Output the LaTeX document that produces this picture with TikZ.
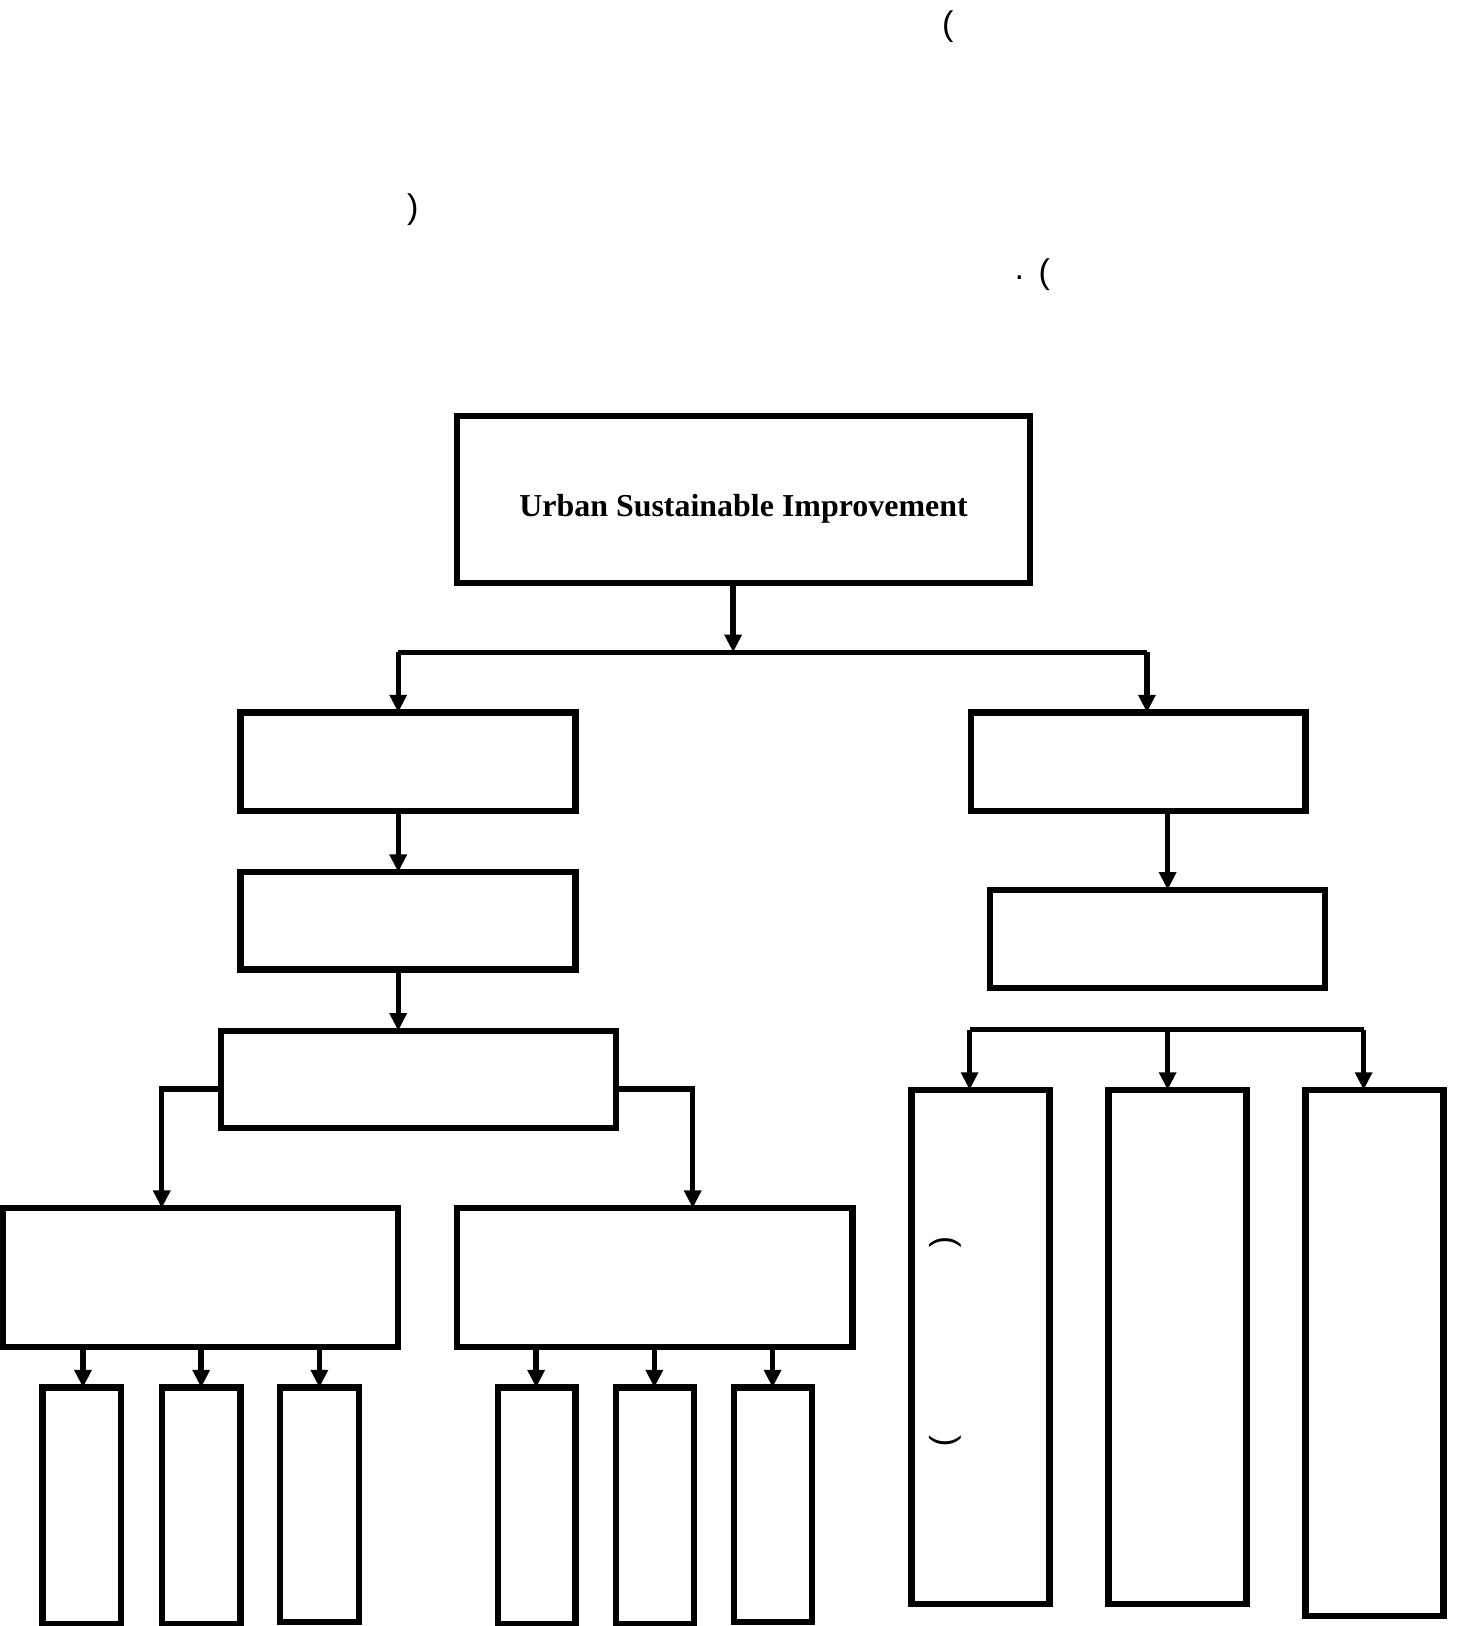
\documentclass[tikz,border=0pt]{standalone}
\usepackage{fontspec}
\setmainfont{Liberation Serif}
\newfontfamily\parfont{Liberation Sans}
\usetikzlibrary{arrows.meta}
\tikzset{
  box/.style={draw, line width=6pt, inner sep=0pt, outer sep=0pt, rectangle},
  conn/.style={line width=5.2pt},
  arr/.style={line width=5.2pt, -{Triangle[length=17pt,width=16pt]}},
  par/.style={inner sep=0pt, font=\parfont\fontsize{33}{36}\selectfont},
}
\newcommand\mybox[5]{\node[box, minimum width={(#4)-(#2)}, minimum height={(#5)-(#3)}] (#1) at ({((#2)+(#4))/2},{((#3)+(#5))/2}) {};}
\begin{document}
\begin{tikzpicture}[x=1pt,y=-1pt]
\useasboundingbox (0,0) rectangle (1410,1568);
% stray text marks
\node[par] (p1) at (914,26) {(};
\node[par] (p2) at (398,202) {)};
\node[par] (p3a) at (983,268) {.};
\node[par] (p3) at (1007,265) {(};
\node[par, rotate=-90] (p4) at (912,1198) {(};
\node[par, rotate=-90] (p5) at (912,1390) {)};
% boxes
\mybox{top}{441}{401}{993}{562}
\node[font=\bfseries\fontsize{30.8}{36}\selectfont] (tt) at (717,491) {Urban Sustainable Improvement};
\mybox{A1}{232}{687}{555}{782}
\mybox{A2}{232}{841}{555}{935}
\mybox{A3}{213}{994}{594}{1088}
\mybox{B1}{3}{1165}{384}{1299}
\mybox{B2}{441}{1165}{822}{1299}
\mybox{S1}{41}{1338}{117}{1566}
\mybox{S2}{156}{1338}{232}{1566}
\mybox{S3}{270}{1338}{346}{1564}
\mybox{S4}{480}{1338}{555}{1566}
\mybox{S5}{594}{1338}{669}{1566}
\mybox{S6}{708}{1338}{783}{1564}
\mybox{R1}{936}{687}{1259}{782}
\mybox{R2}{955}{858}{1278}{953}
\mybox{C1}{879}{1051}{1012}{1547}
\mybox{C2}{1069}{1051}{1202}{1547}
\mybox{C3}{1259}{1051}{1392}{1558}
% connectors
\coordinate (j0) at (707,629);
\coordinate (bl) at (384,629);
\coordinate (br) at (1106,629);
\draw[arr] (top.south -| j0) -- (j0);
\draw[conn] (bl) -- (br);
\draw[arr] (bl) -- (bl |- A1.north);
\draw[arr] (br) -- (br |- R1.north);
\draw[arr] (A1.south -| bl) -- (A2.north -| bl);
\draw[arr] (A2.south -| bl) -- (A3.north -| bl);
\coordinate (a3l) at (156,1050);
\coordinate (a3r) at (668,1050);
\draw[arr] (A3.west |- a3l) -- (a3l) -- (a3l |- B1.north);
\draw[arr] (A3.east |- a3r) -- (a3r) -- (a3r |- B2.north);
\foreach \s/\x in {S1/80,S2/194,S3/308}
  \draw[arr] (B1.south -| \x,0) -- (\s.north -| \x,0);
\foreach \s/\x in {S4/517,S5/631,S6/745}
  \draw[arr] (B2.south -| \x,0) -- (\s.north -| \x,0);
\draw[arr] (R1.south -| 1126,0) -- (R2.north -| 1126,0);
\coordinate (cl) at (935,993);
\coordinate (cm) at (1126,993);
\coordinate (cr) at (1315,993);
\draw[conn] (cl) -- (cr);
\draw[arr] (cl) -- (cl |- C1.north);
\draw[arr] (cm) -- (cm |- C2.north);
\draw[arr] (cr) -- (cr |- C3.north);
\end{tikzpicture}
\end{document}
